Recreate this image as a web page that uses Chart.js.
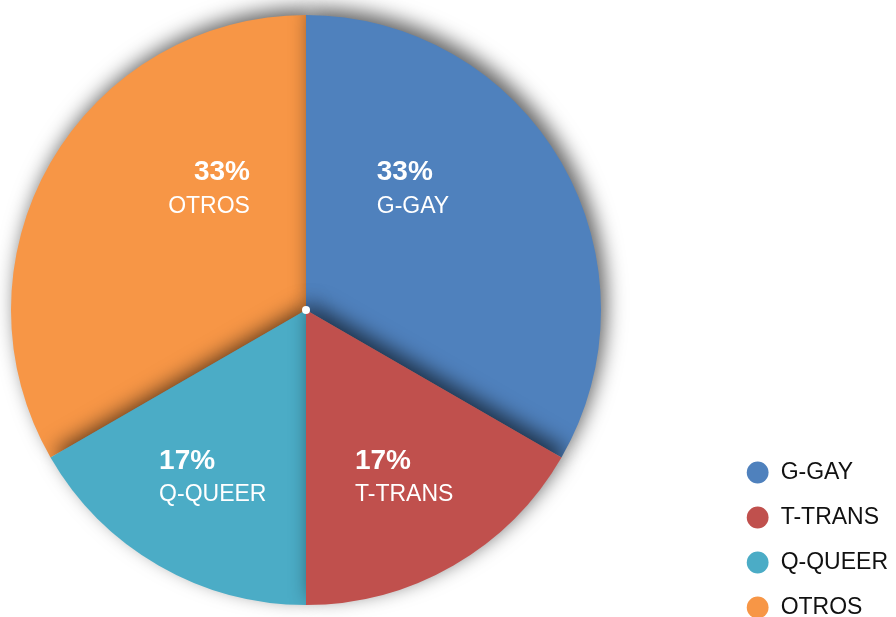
<!DOCTYPE html>
<html>
<head>
<meta charset="utf-8">
<title>Distribución</title>
<script src="https://cdn.jsdelivr.net/npm/chart.js@4.4.0/dist/chart.umd.min.js"></script>
<style>
    html, body { margin: 0; padding: 0; background: #fff; }
    #wrap { width: 896px; height: 617px; position: relative; }
</style>
</head>
<body>
<div id="wrap"><canvas id="pieChart"></canvas></div>
<script>
// 📊 DATA
const categories = ['G-GAY', 'T-TRANS', 'Q-QUEER', 'OTROS'];
const counts = [2, 1, 1, 2];
const sliceColors = ['#4F81BD', '#C0504D', '#4BACC6', '#F79646'];

// label anchor relative to the pie centre, as a share of the radius
const labelSpots = [
    { fx: 0.24, fy: -0.47, align: 'left' },
    { fx: 0.166, fy: 0.508, align: 'left' },
    { fx: -0.498, fy: 0.508, align: 'left' },
    { fx: -0.19, fy: -0.47, align: 'right' }
];
// paint order, so the soft shadows overlap like the original
const drawOrder = [3, 0, 2, 1];

const total = counts.reduce((a, b) => a + b, 0);

// 🥧 keep the pie on the left part of the canvas
const pieArea = {
    id: 'pieArea',
    afterLayout(chart) {
        const a = chart.chartArea;
        a.left = 0; a.right = 612; a.top = 15; a.bottom = 605;
        a.width = 612; a.height = 590;
    }
};

// 🌑 shadowed slices
const shadowSlices = {
    id: 'shadowSlices',
    beforeDatasetDraw(chart, args) {
        const ctx = chart.ctx;
        const arcs = args.meta.data;
        ctx.save();
        ctx.shadowColor = 'rgba(0, 0, 0, 0.62)';
        ctx.shadowBlur = 20;
        ctx.shadowOffsetX = 5;
        ctx.shadowOffsetY = -7;
        drawOrder.forEach(i => arcs[i].draw(ctx));
        ctx.restore();
        return false;
    },
    afterDatasetsDraw(chart) {
        const ctx = chart.ctx;
        const arcs = chart.getDatasetMeta(0).data;
        if (!arcs.length) return;
        const cx = arcs[0].x, cy = arcs[0].y, r = arcs[0].outerRadius;

        // centre dot
        ctx.save();
        ctx.fillStyle = '#fff';
        ctx.beginPath();
        ctx.arc(cx, cy, 4, 0, Math.PI * 2);
        ctx.fill();

        // slice labels
        ctx.fillStyle = '#fff';
        ctx.textBaseline = 'middle';
        arcs.forEach((arc, i) => {
            const spot = labelSpots[i];
            const x = cx + spot.fx * r;
            const y = cy + spot.fy * r;
            ctx.textAlign = spot.align;
            ctx.font = 'bold 28px "Liberation Sans", Arial, sans-serif';
            ctx.fillText(Math.round(counts[i] / total * 100) + '%', x, y + 1);
            ctx.font = '23px "Liberation Sans", Arial, sans-serif';
            ctx.fillText(categories[i], x, y + 35);
        });
        ctx.restore();
    }
};

document.addEventListener('DOMContentLoaded', () => {
    const ctx = document.getElementById('pieChart').getContext('2d');
    new Chart(ctx, {
        type: 'pie',
        data: {
            labels: categories,
            datasets: [{
                data: counts,
                backgroundColor: sliceColors,
                borderWidth: 0,
                clip: false
            }]
        },
        options: {
            responsive: true,
            maintainAspectRatio: false,
            animation: false,
            layout: { padding: { bottom: -24, right: -2 } },
            plugins: {
                tooltip: { enabled: false },
                legend: {
                    position: 'right',
                    align: 'end',
                    labels: {
                        usePointStyle: true,
                        pointStyle: 'circle',
                        boxWidth: 23,
                        boxHeight: 15.4,
                        padding: 22,
                        color: '#111',
                        font: { family: '"Liberation Sans", Arial, sans-serif', size: 23 }
                    }
                }
            }
        },
        plugins: [pieArea, shadowSlices]
    });
});
</script>
</body>
</html>
